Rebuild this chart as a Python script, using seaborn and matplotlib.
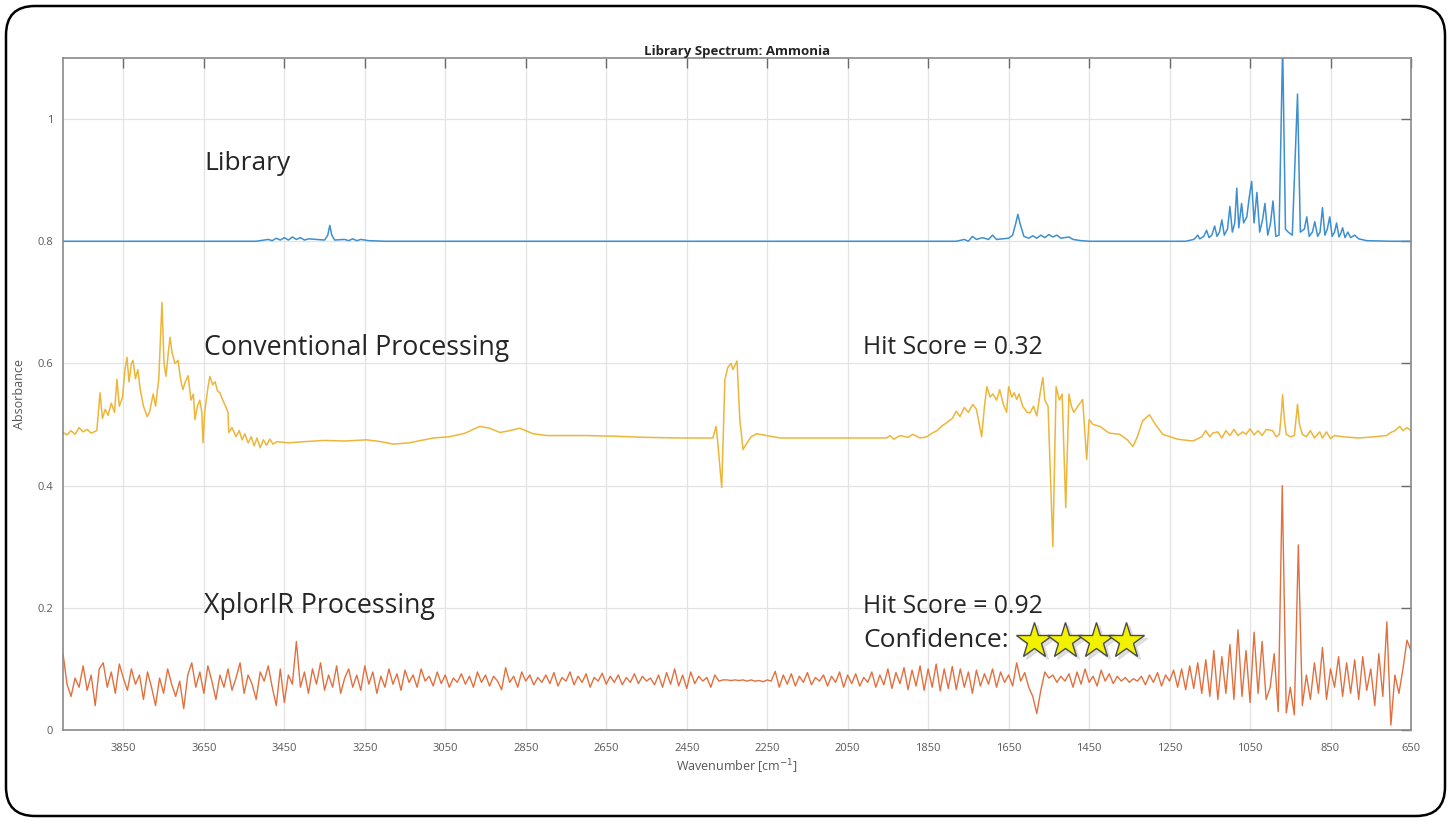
import numpy as np
import pandas as pd
import matplotlib
matplotlib.use("Agg")
import matplotlib.pyplot as plt
import seaborn as sns
from matplotlib.patches import FancyBboxPatch

# ---------------- data ----------------
lib_wn = [4000, 3520, 3490, 3480, 3470, 3460, 3450, 3440, 3430, 3420, 3410, 3400, 3390, 3350, 3342, 3337, 3332, 3325,
          3300, 3290, 3280, 3270, 3260, 3240, 3200, 1780, 1760, 1750, 1740, 1730, 1715, 1700, 1690, 1680, 1650, 1640,
          1632, 1627, 1622, 1612, 1600, 1590, 1580, 1570, 1560, 1550, 1540, 1530, 1520, 1500, 1490, 1470, 1450, 1210,
          1190, 1185, 1180, 1175, 1165, 1158, 1152, 1145, 1138, 1132, 1126, 1120, 1114, 1106, 1100, 1094, 1088, 1083,
          1078, 1071, 1066, 1058, 1052, 1046, 1040, 1033, 1026, 1019, 1013, 1006, 999, 993, 986, 978, 969, 962, 955,
          945, 932, 925, 915, 909, 903, 895, 889, 882, 876, 870, 864, 858, 852, 846, 840, 835, 829, 825, 820, 814, 807,
          800, 790, 780, 760, 700, 650]
lib_abs = [0.8, 0.8, 0.803, 0.801, 0.805, 0.802, 0.806, 0.802, 0.807, 0.803, 0.806, 0.802, 0.804, 0.802, 0.81, 0.826,
           0.81, 0.802, 0.803, 0.801, 0.804, 0.801, 0.803, 0.801, 0.8, 0.8, 0.803, 0.8, 0.808, 0.803, 0.806, 0.803, 0.81,
           0.803, 0.805, 0.81, 0.83, 0.844, 0.83, 0.808, 0.805, 0.809, 0.805, 0.81, 0.806, 0.811, 0.807, 0.81, 0.805,
           0.807, 0.803, 0.801, 0.8, 0.8, 0.803, 0.806, 0.81, 0.804, 0.808, 0.818, 0.806, 0.81, 0.825, 0.808, 0.815,
           0.835, 0.81, 0.82, 0.857, 0.815, 0.83, 0.887, 0.822, 0.862, 0.83, 0.84, 0.872, 0.898, 0.83, 0.88, 0.815,
           0.835, 0.862, 0.81, 0.83, 0.866, 0.808, 0.81, 1.12, 0.82, 0.815, 0.81, 1.041, 0.815, 0.82, 0.84, 0.808,
           0.815, 0.832, 0.808, 0.815, 0.855, 0.81, 0.82, 0.84, 0.808, 0.815, 0.83, 0.807, 0.812, 0.822, 0.806, 0.815,
           0.806, 0.81, 0.804, 0.801, 0.8, 0.8]

conv_wn = [4000, 3990, 3980, 3970, 3960, 3950, 3940, 3930, 3916, 3908, 3902, 3895, 3888, 3880, 3872, 3866, 3860, 3852,
           3846, 3841, 3836, 3830, 3826, 3820, 3814, 3808, 3800, 3791, 3785, 3776, 3770, 3762, 3754, 3749, 3744, 3738,
           3734, 3729, 3722, 3714, 3708, 3702, 3696, 3689, 3682, 3676, 3672, 3666, 3660, 3655, 3652, 3648, 3640, 3635,
           3628, 3622, 3616, 3610, 3603, 3596, 3590, 3588, 3580, 3570, 3562, 3555, 3548, 3540, 3532, 3525, 3518, 3510,
           3502, 3494, 3486, 3478, 3468, 3440, 3400, 3350, 3300, 3245, 3210, 3180, 3140, 3080, 3040, 3000, 2981, 2964,
           2940, 2914, 2890, 2865, 2850, 2832, 2798, 2700, 2634, 2550, 2467, 2385, 2377, 2373, 2363, 2355, 2348, 2340,
           2335, 2325, 2318, 2310, 2303, 2290, 2276, 2260, 2218, 2100, 1953, 1945, 1935, 1920, 1900, 1888, 1870, 1853,
           1840, 1828, 1815, 1804, 1790, 1780, 1771, 1760, 1750, 1739, 1730, 1717, 1710, 1704, 1696, 1689, 1680, 1672,
           1664, 1655, 1650, 1642, 1636, 1630, 1624, 1615, 1604, 1597, 1588, 1580, 1572, 1565, 1560, 1552, 1540, 1532,
           1524, 1517, 1508, 1500, 1494, 1488, 1478, 1466, 1456, 1450, 1440, 1423, 1400, 1374, 1355, 1341, 1330, 1317,
           1300, 1285, 1267, 1230, 1192, 1170, 1160, 1150, 1143, 1130, 1120, 1110, 1100, 1090, 1080, 1068, 1060, 1050,
           1040, 1030, 1020, 1010, 994, 985, 977, 972, 969, 965, 960, 950, 940, 935, 932, 927, 920, 910, 900, 890, 877,
           870, 860, 850, 840, 820, 780, 740, 711, 700, 690, 678, 670, 660, 650]
conv_abs = [0.487, 0.483, 0.49, 0.484, 0.495, 0.488, 0.492, 0.486, 0.49, 0.552, 0.51, 0.525, 0.515, 0.535, 0.52, 0.574,
            0.53, 0.545, 0.59, 0.61, 0.57, 0.6, 0.605, 0.575, 0.59, 0.557, 0.53, 0.513, 0.52, 0.55, 0.53, 0.575, 0.70,
            0.6, 0.579, 0.62, 0.643, 0.618, 0.6, 0.605, 0.575, 0.557, 0.57, 0.58, 0.54, 0.55, 0.508, 0.53, 0.54, 0.52,
            0.47, 0.52, 0.56, 0.579, 0.565, 0.57, 0.555, 0.552, 0.54, 0.53, 0.52, 0.487, 0.495, 0.48, 0.49, 0.475,
            0.485, 0.47, 0.48, 0.465, 0.478, 0.462, 0.475, 0.466, 0.476, 0.468, 0.472, 0.47, 0.472, 0.474, 0.473,
            0.475, 0.472, 0.468, 0.47, 0.478, 0.48, 0.486, 0.492, 0.497, 0.494, 0.487, 0.49, 0.494, 0.49, 0.485, 0.482,
            0.482, 0.481, 0.479, 0.478, 0.478, 0.497, 0.472, 0.397, 0.574, 0.593, 0.6, 0.59, 0.604, 0.508, 0.459,
            0.467, 0.48, 0.485, 0.483, 0.478, 0.478, 0.478, 0.482, 0.476, 0.482, 0.479, 0.484, 0.478, 0.48, 0.486,
            0.49, 0.498, 0.503, 0.51, 0.522, 0.513, 0.528, 0.52, 0.533, 0.525, 0.48, 0.53, 0.562, 0.545, 0.55, 0.54,
            0.557, 0.535, 0.52, 0.562, 0.545, 0.552, 0.541, 0.55, 0.53, 0.52, 0.519, 0.53, 0.514, 0.55, 0.577, 0.54,
            0.53, 0.30, 0.562, 0.54, 0.55, 0.364, 0.55, 0.53, 0.52, 0.53, 0.541, 0.443, 0.508, 0.5, 0.497, 0.486,
            0.484, 0.475, 0.464, 0.48, 0.506, 0.516, 0.5, 0.484, 0.476, 0.473, 0.48, 0.49, 0.48, 0.486, 0.488, 0.478,
            0.49, 0.482, 0.492, 0.482, 0.488, 0.484, 0.493, 0.483, 0.49, 0.482, 0.492, 0.49, 0.48, 0.484, 0.52, 0.549,
            0.51, 0.484, 0.48, 0.482, 0.515, 0.533, 0.5, 0.484, 0.48, 0.49, 0.478, 0.488, 0.478, 0.488, 0.477, 0.482,
            0.48, 0.478, 0.48, 0.482, 0.487, 0.49, 0.497, 0.49, 0.495, 0.49]

xplor_wn = np.arange(4000, 645, -10)
xplor_abs = [
    0.125, 0.075, 0.055, 0.085, 0.07, 0.105, 0.065, 0.09, 0.04, 0.1, 0.11, 0.07, 0.095, 0.06, 0.108, 0.085, 0.065, 0.1, 0.075, 0.09,
    0.05, 0.095, 0.07, 0.04, 0.085, 0.06, 0.1, 0.075, 0.055, 0.08, 0.035, 0.09, 0.11, 0.07, 0.095, 0.06, 0.105, 0.08, 0.05, 0.09,
    0.07, 0.1, 0.065, 0.085, 0.11, 0.06, 0.09, 0.075, 0.05, 0.095, 0.08, 0.105, 0.07, 0.04, 0.1, 0.045, 0.09, 0.075, 0.145, 0.07,
    0.095, 0.06, 0.1, 0.075, 0.11, 0.065, 0.09, 0.07, 0.105, 0.06, 0.085, 0.1, 0.07, 0.09, 0.065, 0.105, 0.075, 0.095, 0.06, 0.088,
    0.07, 0.1, 0.075, 0.092, 0.065, 0.098, 0.078, 0.09, 0.07, 0.1, 0.08, 0.088, 0.072, 0.095, 0.076, 0.09, 0.07, 0.085, 0.078, 0.092,
    0.075, 0.088, 0.07, 0.095, 0.078, 0.09, 0.072, 0.088, 0.08, 0.066, 0.102, 0.078, 0.088, 0.07, 0.095, 0.08, 0.09, 0.074, 0.086, 0.078,
    0.09, 0.076, 0.094, 0.072, 0.086, 0.08, 0.095, 0.074, 0.088, 0.078, 0.092, 0.07, 0.086, 0.08, 0.093, 0.075, 0.088, 0.078, 0.09, 0.074,
    0.086, 0.078, 0.092, 0.076, 0.088, 0.08, 0.085, 0.074, 0.09, 0.07, 0.094, 0.075, 0.1, 0.072, 0.09, 0.068, 0.095, 0.076, 0.088, 0.08,
    0.086, 0.07, 0.09, 0.08, 0.082, 0.082, 0.081, 0.082, 0.081, 0.082, 0.08, 0.082, 0.08, 0.081, 0.079, 0.082, 0.08, 0.096, 0.07, 0.09,
    0.075, 0.092, 0.072, 0.088, 0.078, 0.094, 0.074, 0.086, 0.08, 0.09, 0.072, 0.088, 0.078, 0.095, 0.07, 0.09, 0.076, 0.092, 0.072, 0.086,
    0.078, 0.095, 0.07, 0.09, 0.074, 0.1, 0.068, 0.094, 0.076, 0.102, 0.066, 0.098, 0.072, 0.105, 0.065, 0.1, 0.07, 0.108, 0.064, 0.1,
    0.068, 0.104, 0.066, 0.1, 0.07, 0.095, 0.06, 0.098, 0.072, 0.092, 0.075, 0.1, 0.07, 0.095, 0.078, 0.09, 0.072, 0.11, 0.08, 0.094,
    0.07, 0.055, 0.027, 0.065, 0.095, 0.085, 0.09, 0.078, 0.088, 0.08, 0.092, 0.07, 0.095, 0.075, 0.1, 0.078, 0.088, 0.072, 0.098, 0.08,
    0.092, 0.076, 0.088, 0.08, 0.086, 0.078, 0.084, 0.08, 0.088, 0.074, 0.09, 0.078, 0.094, 0.072, 0.09, 0.08, 0.098, 0.07, 0.1, 0.066,
    0.105, 0.068, 0.11, 0.06, 0.115, 0.055, 0.13, 0.05, 0.12, 0.06, 0.14, 0.05, 0.164, 0.055, 0.13, 0.045, 0.16, 0.06, 0.145, 0.05,
    0.07, 0.125, 0.03, 0.40, 0.028, 0.07, 0.025, 0.303, 0.04, 0.09, 0.05, 0.11, 0.06, 0.135, 0.05, 0.1, 0.07, 0.12, 0.055, 0.11,
    0.06, 0.115, 0.05, 0.12, 0.065, 0.1, 0.04, 0.125, 0.055, 0.177, 0.008, 0.09, 0.06, 0.1, 0.147, 0.13]

x_ticks = [3850, 3650, 3450, 3250, 3050, 2850, 2650, 2450, 2250, 2050, 1850, 1650, 1450, 1250, 1050, 850, 650]
y_ticks = [0, 0.2, 0.4, 0.6, 0.8, 1]
y_tick_labels = ["0", "0.2", "0.4", "0.6", "0.8", "1"]

# ---------------- plot ----------------
sns.set_style("white")
plt.rcParams['font.family'] = ['Open Sans', 'DejaVu Sans']

fig = plt.figure(figsize=(14.51, 8.22), dpi=100)
ax = fig.add_axes([63 / 1451, 1 - 730 / 822, (1411 - 63) / 1451, (730 - 58) / 822])

c_lib = "#3d8fd0"
c_conv = "#EDB63A"
c_xpl = "#E2703F"

lib_df = pd.DataFrame({"wn": lib_wn, "abs": lib_abs})
conv_df = pd.DataFrame({"wn": conv_wn, "abs": conv_abs})
xpl_df = pd.DataFrame({"wn": xplor_wn, "abs": xplor_abs})

sns.lineplot(data=lib_df, x="wn", y="abs", ax=ax, color=c_lib, lw=1.1, estimator=None, sort=False)
sns.lineplot(data=conv_df, x="wn", y="abs", ax=ax, color=c_conv, lw=1.1, estimator=None, sort=False)
sns.lineplot(data=xpl_df, x="wn", y="abs", ax=ax, color=c_xpl, lw=1.0, estimator=None, sort=False)

ax.set_xlim(4000, 650)
ax.set_ylim(0, 1.1)
ax.set_xticks(x_ticks)
ax.set_xticklabels([str(t) for t in x_ticks])
ax.set_yticks(y_ticks)
ax.set_yticklabels(y_tick_labels)
ax.grid(True, color="#e3e3e3", lw=0.9)
ax.set_axisbelow(True)
for s in ax.spines.values():
    s.set_color("#8a8a8a")
    s.set_linewidth(1.2)
ax.tick_params(axis="both", direction="in", length=7, width=1.0, color="#6a6a6a",
               labelsize=8, labelcolor="#5a5a5a", top=True, right=True)
ax.tick_params(axis="x", pad=9)
ax.tick_params(axis="y", pad=7)

ax.set_xlabel("Wavenumber [cm$^{-1}$]", fontsize=9, color="#555555", labelpad=3)
ax.set_ylabel("Absorbance", fontsize=9, color="#555555", labelpad=8)
ax.set_title("Library Spectrum: Ammonia", fontsize=9.5, fontweight="bold", color="#222222", pad=2)

def fx(px):
    return px / 1451

def fy(py):
    return 1 - py / 822

tk = dict(color="#262626", va="center", ha="left", transform=fig.transFigure)
fig.text(fx(204), fy(163), "Library", fontsize=19, **tk)
fig.text(fx(204), fy(348), "Conventional Processing", fontsize=19.3, **tk)
fig.text(fx(863), fy(348), "Hit Score = 0.32", fontsize=17.8, **tk)
fig.text(fx(204), fy(606), "XplorIR Processing", fontsize=19.3, **tk)
fig.text(fx(863), fy(606), "Hit Score = 0.92", fontsize=17.8, **tk)
fig.text(fx(863), fy(640), "Confidence:", fontsize=19, **tk)

star_x = [fx(1034), fx(1065), fx(1096), fx(1126)]
star_y = [fy(641)] * 4
fig.add_artist(plt.Line2D([x + 0.002 for x in star_x], [y - 0.004 for y in star_y], ls="none", marker="*",
                          markersize=27, color="#d8d8d8", alpha=0.8, transform=fig.transFigure))
fig.add_artist(plt.Line2D(star_x, star_y, ls="none", marker="*", markersize=27,
                          markerfacecolor="#f2f200", markeredgecolor="#4a4a4a", markeredgewidth=1.0,
                          transform=fig.transFigure))

frame = FancyBboxPatch((6 / 1451, 6 / 822), 1439 / 1451, 810 / 822,
                       boxstyle="round,pad=0,rounding_size=0.02", transform=fig.transFigure,
                       fill=False, ec="black", lw=1.8, mutation_aspect=1451 / 822)
fig.add_artist(frame)

fig.savefig("out.png", dpi=100)
